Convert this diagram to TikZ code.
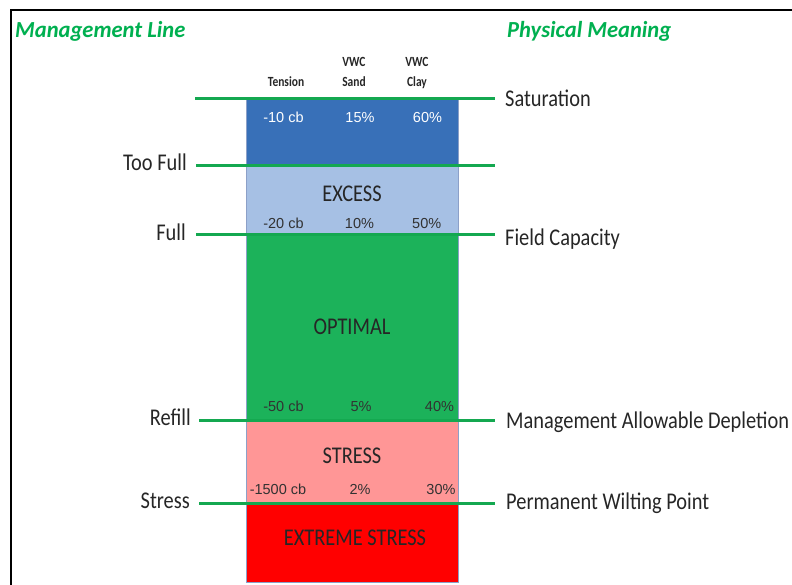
\documentclass[tikz,border=0pt]{standalone}
\usepackage{fontspec}
\usepackage{graphicx}
\setmainfont{Carlito}
\newfontfamily\arialf{Liberation Sans}
\newcommand\hsq[1]{\scalebox{0.85}[1]{#1}}
\newcommand\hsqh[1]{\scalebox{0.82}[1]{#1}}
\definecolor{titlegreen}{RGB}{0,176,80}
\definecolor{linegreen}{RGB}{20,168,80}
\definecolor{satblue}{RGB}{56,112,184}
\definecolor{excblue}{RGB}{166,192,228}
\definecolor{optgreen}{RGB}{28,178,90}
\definecolor{strred}{RGB}{255,150,150}
\definecolor{extred}{RGB}{255,0,0}
\definecolor{txt}{RGB}{38,38,38}
\definecolor{numtxt}{RGB}{50,50,50}
\definecolor{boxedge}{RGB}{140,160,200}
\tikzset{
  title/.style={font=\fontsize{23}{25}\selectfont\bfseries\itshape, text=titlegreen, inner sep=0pt},
  lbl/.style={font=\fontsize{24}{26}\selectfont, text=txt, inner sep=0pt},
  hdr/.style={font=\fontsize{14}{16}\selectfont\bfseries, text=txt, inner sep=0pt, anchor=base},
  num/.style={font=\arialf\fontsize{14.5}{16}\selectfont, text=numtxt, inner sep=0pt, anchor=base},
  numw/.style={num, text=white},
  zone/.style={font=\fontsize{24}{26}\selectfont, text=txt, inner sep=0pt, anchor=base},
  gline/.style={draw=linegreen, line width=3pt},
}
\begin{document}
\begin{tikzpicture}[x=1pt,y=-1pt]
\useasboundingbox (0,0) rectangle (792,584);
% frame
\draw[line width=1.5pt] (11,590) -- (11,10) -- (800,10);
% titles
\node[title, anchor=base west] (mtitle) at (15,37) {\scalebox{0.98}[1]{Management Line}};
\node[title, anchor=base west] (ptitle) at (507,37) {\scalebox{0.98}[1]{Physical Meaning}};
% column headers
\node[hdr] (htension) at (286,86) {\hsqh{Tension}};
\node[hdr] (hsand1) at (354,66) {\hsqh{VWC}};
\node[hdr] (hsand2) at (354,86) {\hsqh{Sand}};
\node[hdr] (hclay1) at (417,66) {\hsqh{VWC}};
\node[hdr] (hclay2) at (417,86) {\hsqh{Clay}};
% zones
\fill[satblue] (246,98) rectangle (458,165);
\fill[excblue] (246,165) rectangle (458,234);
\fill[optgreen] (246,234) rectangle (458,420);
\fill[strred] (246,420) rectangle (458,503);
\fill[extred] (246,503) rectangle (458,582);
\draw[boxedge, line width=0.8pt] (246,98) rectangle (458,582);
% zone names
\node[zone] (excess) at (352,201.5) {\hsq{EXCESS}};
\node[zone] (optimal) at (352,334) {\hsq{OPTIMAL}};
\node[zone] (stress) at (352,463) {\hsq{STRESS}};
\node[zone] (extreme) at (355,545) {\hsq{EXTREME STRESS}};
% values
\node[numw] (t1) at (283.5,122) {-10 cb};
\node[numw] (s1) at (360,122) {15\%};
\node[numw] (c1) at (427.5,122) {60\%};
\node[num] (t2) at (283.5,228) {-20 cb};
\node[num] (s2) at (359.5,228) {10\%};
\node[num] (c2) at (426.7,228) {50\%};
\node[num] (t3) at (283.5,411) {-50 cb};
\node[num] (s3) at (361,411) {5\%};
\node[num] (c3) at (439.5,411) {40\%};
\node[num] (t4) at (278,494) {-1500 cb};
\node[num] (s4) at (360,494) {2\%};
\node[num] (c4) at (441,494) {30\%};
% left labels
\node[lbl, anchor=base east] (toofull) at (187,170) {\hsq{Too Full}};
\node[lbl, anchor=base east] (full) at (186,240) {\hsq{Full}};
\node[lbl, anchor=base east] (refill) at (191,425) {\hsq{Refill}};
\node[lbl, anchor=base east] (stressl) at (190,508) {\hsq{Stress}};
% right labels
\node[lbl, anchor=base west] (sat) at (505,106) {\hsq{Saturation}};
\node[lbl, anchor=base west] (fc) at (505,245) {\hsq{Field Capacity}};
\node[lbl, anchor=base west] (mad) at (506,428) {\hsq{Management Allowable Depletion}};
\node[lbl, anchor=base west] (pwp) at (506,509) {\hsq{Permanent Wilting Point}};
% line ends
\coordinate (l0) at (195,98);  \coordinate (r0) at (495,98);
\coordinate (l1) at (196,165); \coordinate (r1) at (495,165);
\coordinate (l2) at (196,234); \coordinate (r2) at (495,234);
\coordinate (l3) at (199,420); \coordinate (r3) at (495,420);
\coordinate (l4) at (199,503); \coordinate (r4) at (495,503);
\draw[gline] (l0) -- (r0);
\draw[gline] (l1) -- (r1);
\draw[gline] (l2) -- (r2);
\draw[gline] (l3) -- (r3);
\draw[gline] (l4) -- (r4);
\end{tikzpicture}
\end{document}
